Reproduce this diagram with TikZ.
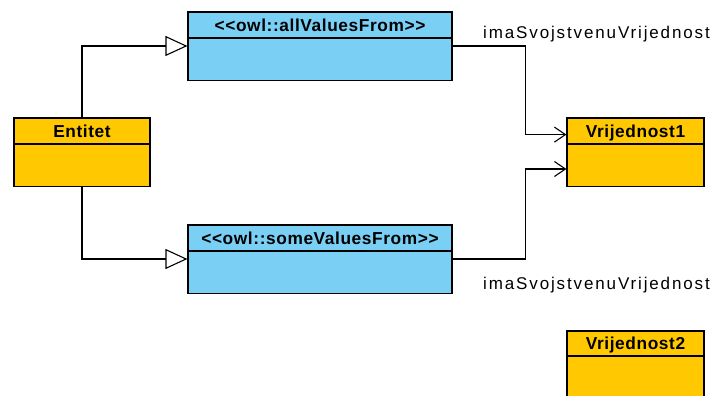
\documentclass[tikz,border=0pt]{standalone}
\usepackage{fontspec}
\setmainfont[Ligatures=NoCommon]{Liberation Sans}
\usetikzlibrary{positioning,arrows.meta}

\definecolor{classorange}{RGB}{255,200,0}
\definecolor{classblue}{RGB}{122,207,245}

\tikzset{
  head/.style={draw, line width=1.2pt, inner sep=0pt, minimum height=26pt,
    text height=12.3pt, text depth=0pt,
    font=\fontsize{17.3}{20}\selectfont\bfseries\addfontfeature{LetterSpace=3.5}},
  body/.style={draw, line width=1.2pt, inner sep=0pt, minimum height=42pt},
  gen/.style={line width=1.1pt, -{Triangle[open, length=22pt, width=20pt]}},
  assoc/.style={line width=1.1pt, -{Straight Barb[length=11pt, width=15pt]}},
  rolelab/.style={inner sep=0pt,
    font=\fontsize{17}{20}\selectfont\addfontfeature{LetterSpace=11}}
}

\begin{document}
\begin{tikzpicture}[x=1pt,y=-1pt, line join=miter]

\useasboundingbox (0,0) rectangle (716,396);

% klase
\node[head, fill=classorange, minimum width=136pt] (entHead) at (82,131) {Entitet};
\node[body, fill=classorange, minimum width=136pt, below=-0.6pt of entHead] (entBody) {};

\node[head, fill=classblue, minimum width=264pt] (allHead) at (320,25) {<{}<owl::allValuesFrom>{}>};
\node[body, fill=classblue, minimum width=264pt, below=-0.6pt of allHead] (allBody) {};

\node[head, fill=classblue, minimum width=264pt] (someHead) at (320,238) {<{}<owl::someValuesFrom>{}>};
\node[body, fill=classblue, minimum width=264pt, below=-0.6pt of someHead] (someBody) {};

\node[head, fill=classorange, minimum width=137pt] (v1Head) at (635.5,131) {Vrijednost1};
\node[body, fill=classorange, minimum width=137pt, below=-0.6pt of v1Head] (v1Body) {};

\node[head, fill=classorange, minimum width=137pt, minimum height=25pt] (v2Head) at (635.5,343.5) {Vrijednost2};
\node[body, fill=classorange, minimum width=137pt, below=-0.6pt of v2Head] (v2Body) {};

% nasljedjivanje
\draw[gen] (entHead.north) |- ([yshift=-8pt]allBody.north west);
\draw[gen] (entBody.south) |- ([yshift=-8pt]someBody.north west);

% asocijacije
\draw[assoc] ([yshift=-8pt]allBody.north east) -- ++(73,0) |- ([yshift=10pt]v1Head.south west);
\draw[assoc] ([yshift=-8pt]someBody.north east) -- ++(73,0) |- ([yshift=-25pt]v1Body.north west);

% oznake uloga
\node[rolelab, anchor=base west] (lab1) at (483,39) {imaSvojstvenuVrijednost};
\node[rolelab, anchor=base west] (lab2) at (483,289) {imaSvojstvenuVrijednost};

\end{tikzpicture}
\end{document}
